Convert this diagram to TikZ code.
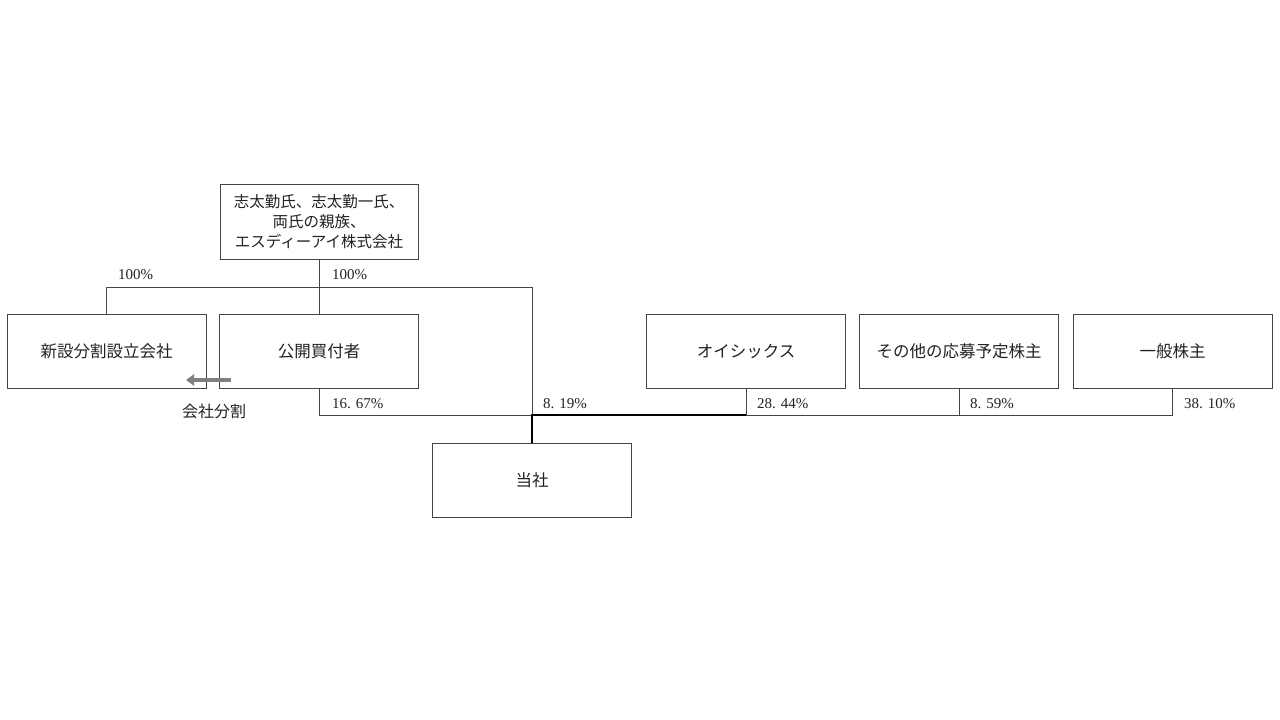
\documentclass[tikz,border=0pt]{standalone}
\usepackage{fontspec}
\setmainfont{Noto Sans CJK JP}
\newfontfamily\numfont{Liberation Serif}
\usetikzlibrary{arrows.meta}
\definecolor{lc}{HTML}{444444}
\definecolor{tc}{HTML}{222222}
\tikzset{
  box/.style={draw=lc, line width=0.9pt, minimum width=199pt, minimum height=74pt, inner sep=0pt, text=tc, font=\fontsize{16.5}{18}\selectfont},
  conn/.style={draw=lc, line width=0.8pt},
  mainconn/.style={draw=black, line width=1.4pt},
  pct/.style={anchor=west, inner sep=0pt, text=tc, font=\numfont\fontsize{15}{16}\selectfont},
}
\begin{document}
\begin{tikzpicture}[x=1pt,y=-1pt]
\useasboundingbox (0,0) rectangle (1280,720);
\node[box, minimum width=198pt, minimum height=75pt, align=center, font=\fontsize{15.5}{20}\selectfont] (top) at (319,221.5) {志太勤氏、志太勤一氏、\\両氏の親族、\\エスディーアイ株式会社};
\node[box] (shinsetsu) at (106.5,351) {新設分割設立会社};
\node[box] (koukai) at (319,351) {公開買付者};
\node[box] (oisix) at (746,351) {オイシックス};
\node[box] (sonota) at (959,351) {その他の応募予定株主};
\node[box] (ippan) at (1172.5,351) {一般株主};
\node[box] (tosha) at (532,480) {当社};

\coordinate (j2) at (532,287);
\coordinate (b2) at (532,415);

\draw[conn] (top.south) -- (koukai.north);
\draw[conn] (shinsetsu.north) |- (j2) -- (b2);
\draw[conn] (koukai.south) |- (b2);
\draw[conn] (oisix.south) -- (oisix.south |- b2);
\draw[conn] (oisix.south |- b2) -| (sonota.south);
\draw[conn] (sonota.south |- b2) -| (ippan.south);
\draw[mainconn] (tosha.north) -- (b2) -- (oisix.south |- b2);

\node[pct] (p1) at (118,275) {100\%};
\node[pct] (p2) at (332,275) {100\%};
\node[pct] (p3) at (332,404) {16.\,\,67\%};
\node[pct] (p4) at (543,404) {8.\,\,19\%};
\node[pct] (p5) at (757,404) {28.\,\,44\%};
\node[pct] (p6) at (970,404) {8.\,\,59\%};
\node[pct] (p7) at (1184,404) {38.\,\,10\%};

\coordinate (as) at (231,380);
\coordinate (ae) at (186,380);
\draw[draw=gray, line width=3.5pt, -{Triangle[length=8pt,width=11pt]}] (as) -- (ae);
\node[text=tc, font=\fontsize{16}{18}\selectfont] (split) at (214,411) {会社分割};
\end{tikzpicture}
\end{document}
